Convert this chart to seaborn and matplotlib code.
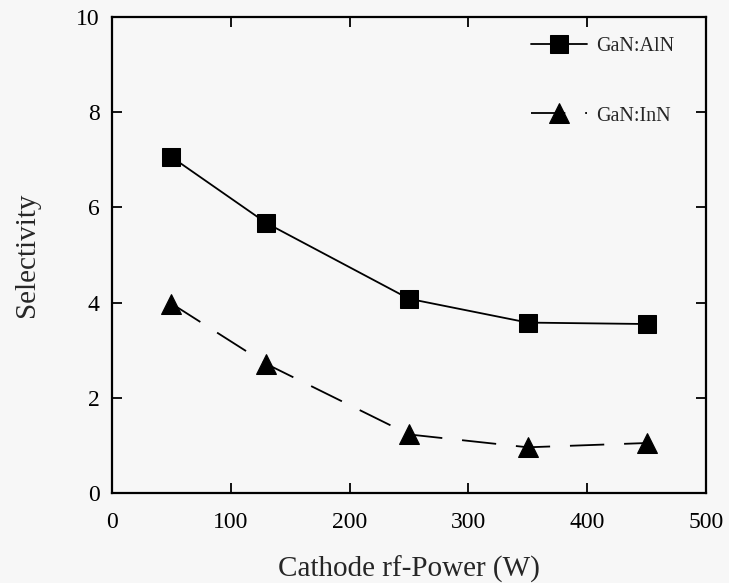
import matplotlib
matplotlib.use("Agg")
import matplotlib.pyplot as plt
import seaborn as sns
import pandas as pd

power = [50, 130, 250, 350, 450]
gan_aln = [7.06, 5.67, 4.08, 3.58, 3.55]
gan_inn = [3.98, 2.71, 1.23, 0.96, 1.05]
series_names = ["GaN:AlN", "GaN:InN"]
xticks = [0, 100, 200, 300, 400, 500]
yticks = [0, 2, 4, 6, 8, 10]

sns.set_theme(style="ticks")
plt.rcParams["font.family"] = ["Liberation Serif", "DejaVu Serif"]
plt.rcParams["xtick.direction"] = "in"
plt.rcParams["ytick.direction"] = "in"

bg = "#f7f7f7"
fig = plt.figure(figsize=(7.29, 5.83), dpi=100, facecolor=bg)
ax = fig.add_axes([112/729, 1-493/583, 594/729, 476/583])
ax.set_facecolor(bg)

df1 = pd.DataFrame({"x": power, "y": gan_aln})
df2 = pd.DataFrame({"x": power, "y": gan_inn})
sns.lineplot(data=df1, x="x", y="y", ax=ax, color="black", lw=1.3,
             marker="s", markersize=13, markeredgecolor="black",
             markerfacecolor="black", label=series_names[0])
sns.lineplot(data=df2, x="x", y="y", ax=ax, color="black", lw=1.3,
             marker="^", markersize=14, markeredgecolor="black",
             markerfacecolor="black", label=series_names[1])
ax.lines[1].set_linestyle((0, (19, 11)))

ax.set_xlim(0, 500)
ax.set_ylim(0, 10)
ax.set_xticks(xticks)
ax.set_yticks(yticks)
ax.tick_params(axis="both", which="both", top=True, right=True,
               length=7, width=1.3, labelsize=17, colors="black")
ax.tick_params(axis="x", pad=14)
ax.tick_params(axis="y", pad=9)
for s in ax.spines.values():
    s.set_linewidth(1.6)
    s.set_color("black")

ax.set_xlabel("Cathode rf-Power (W)", fontsize=21, labelpad=16)
ax.set_ylabel("Selectivity", fontsize=21, labelpad=26)

leg = ax.legend(loc="upper left", bbox_to_anchor=(0.705, 0.958), frameon=False,
                fontsize=14.5, handlelength=2.8, handletextpad=0.45,
                labelspacing=2.5, borderpad=0, borderaxespad=0)
for h in leg.legend_handles:
    h.set_color("black")

fig.savefig("out.png", dpi=100, facecolor=bg)
